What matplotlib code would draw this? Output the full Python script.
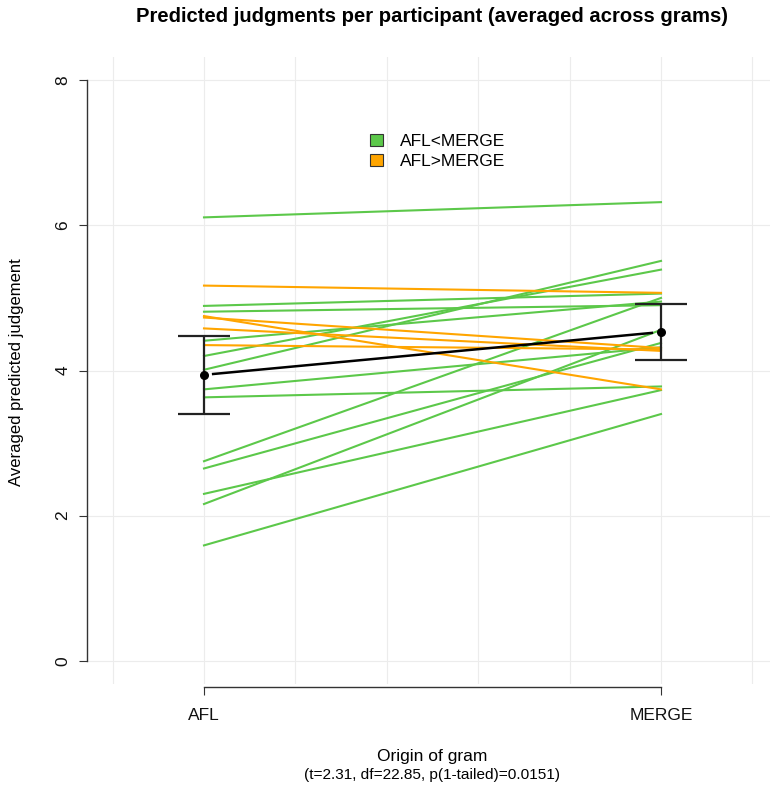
import numpy as np
import matplotlib.pyplot as plt
from matplotlib.patches import Patch

plt.rcParams['font.family'] = ['Liberation Sans', 'DejaVu Sans']

conditions = ['AFL', 'MERGE']

# participants whose judgement went up from AFL to MERGE
afl_up = [6.11, 4.89, 4.81, 4.41, 4.20, 4.01, 3.74, 3.63, 2.75, 2.65, 2.30, 2.16, 1.59]
merge_up = [6.32, 5.06, 4.90, 4.95, 5.39, 5.51, 4.32, 3.78, 5.00, 4.38, 3.73, 4.56, 3.40]

# participants whose judgement went down
afl_down = [5.17, 4.75, 4.73, 4.58, 4.35]
merge_down = [5.07, 3.74, 4.31, 4.27, 4.29]

# group means and confidence intervals
group_mean = [3.94, 4.53]
ci_low = [3.40, 4.15]
ci_high = [4.48, 4.91]

green = '#5cc84a'
orange = '#ffa500'

fig = plt.figure(figsize=(7.7, 7.91), dpi=100)
ax = fig.add_axes([87 / 770, 1 - 684 / 791, (778 - 87) / 770, (684 - 57) / 791])

xpos = np.arange(1, len(conditions) + 1)

# grid
for gx in np.arange(0.8, 2.21, 0.2):
    ax.axvline(gx, color='#ececec', lw=0.8, zorder=0)
for gy in range(0, 9, 2):
    ax.axhline(gy, color='#ececec', lw=0.8, zorder=0)

for a, m in zip(afl_up, merge_up):
    ax.plot(xpos, [a, m], color=green, lw=1.5, zorder=2)
for a, m in zip(afl_down, merge_down):
    ax.plot(xpos, [a, m], color=orange, lw=1.5, zorder=2)

# mean line with a small gap at the points (like R type="b")
gap = 0.02
mx = [xpos[0] + gap, xpos[1] - gap]
my = np.interp(mx, xpos, group_mean)
ax.plot(mx, my, color='black', lw=1.8, zorder=3)
ax.scatter(xpos, group_mean, s=30, color='black', zorder=4)
ax.vlines(xpos, ci_low, ci_high, color='#222222', lw=1.6, zorder=3)
cap = 0.057
ax.hlines(ci_low, xpos - cap, xpos + cap, color='#222222', lw=1.6, zorder=3)
ax.hlines(ci_high, xpos - cap, xpos + cap, color='#222222', lw=1.6, zorder=3)

ax.set_xlim(0.744, 2.256)
ax.set_ylim(-0.32, 8.32)

for s in ['top', 'right']:
    ax.spines[s].set_visible(False)
ax.spines['left'].set_bounds(0, 8)
ax.spines['bottom'].set_bounds(1, 2)
ax.spines['bottom'].set_position(('outward', 2))
for s in ['left', 'bottom']:
    ax.spines[s].set_color('#333333')
    ax.spines[s].set_linewidth(1.0)

ax.set_xticks(xpos)
ax.set_xticklabels(conditions)
ax.set_yticks(range(0, 9, 2))
ax.tick_params(axis='both', direction='out', length=6, color='#333333',
               labelsize=12.5, labelcolor='#111111')
ax.tick_params(axis='x', pad=9)
ax.tick_params(axis='y', pad=6)
for lab in ax.get_yticklabels():
    lab.set_rotation(90)
    lab.set_va('center')

handles = [Patch(facecolor=green, edgecolor='#333333', lw=0.8),
           Patch(facecolor=orange, edgecolor='#333333', lw=0.8)]
ax.legend(handles, ['AFL<MERGE', 'AFL>MERGE'], loc='center left',
          bbox_to_anchor=(1.33, 7.02), bbox_transform=ax.transData,
          frameon=False, fontsize=12.5, handlelength=0.7, handleheight=0.7,
          handletextpad=1.0, labelspacing=0.3)

fig.text(432 / 770, 1 - 17 / 791, 'Predicted judgments per participant (averaged across grams)',
         ha='center', va='center', fontsize=14.6, fontweight='bold')
fig.text(17 / 770, 1 - 372 / 791, 'Averaged predicted judgement', rotation=90,
         ha='center', va='center', fontsize=12)
fig.text(432 / 770, 1 - 756 / 791, 'Origin of gram',
         ha='center', va='center', fontsize=12.5)
fig.text(432 / 770, 1 - 775 / 791, '(t=2.31, df=22.85, p(1-tailed)=0.0151)',
         ha='center', va='center', fontsize=11.1)

fig.savefig('out.png', dpi=100)
